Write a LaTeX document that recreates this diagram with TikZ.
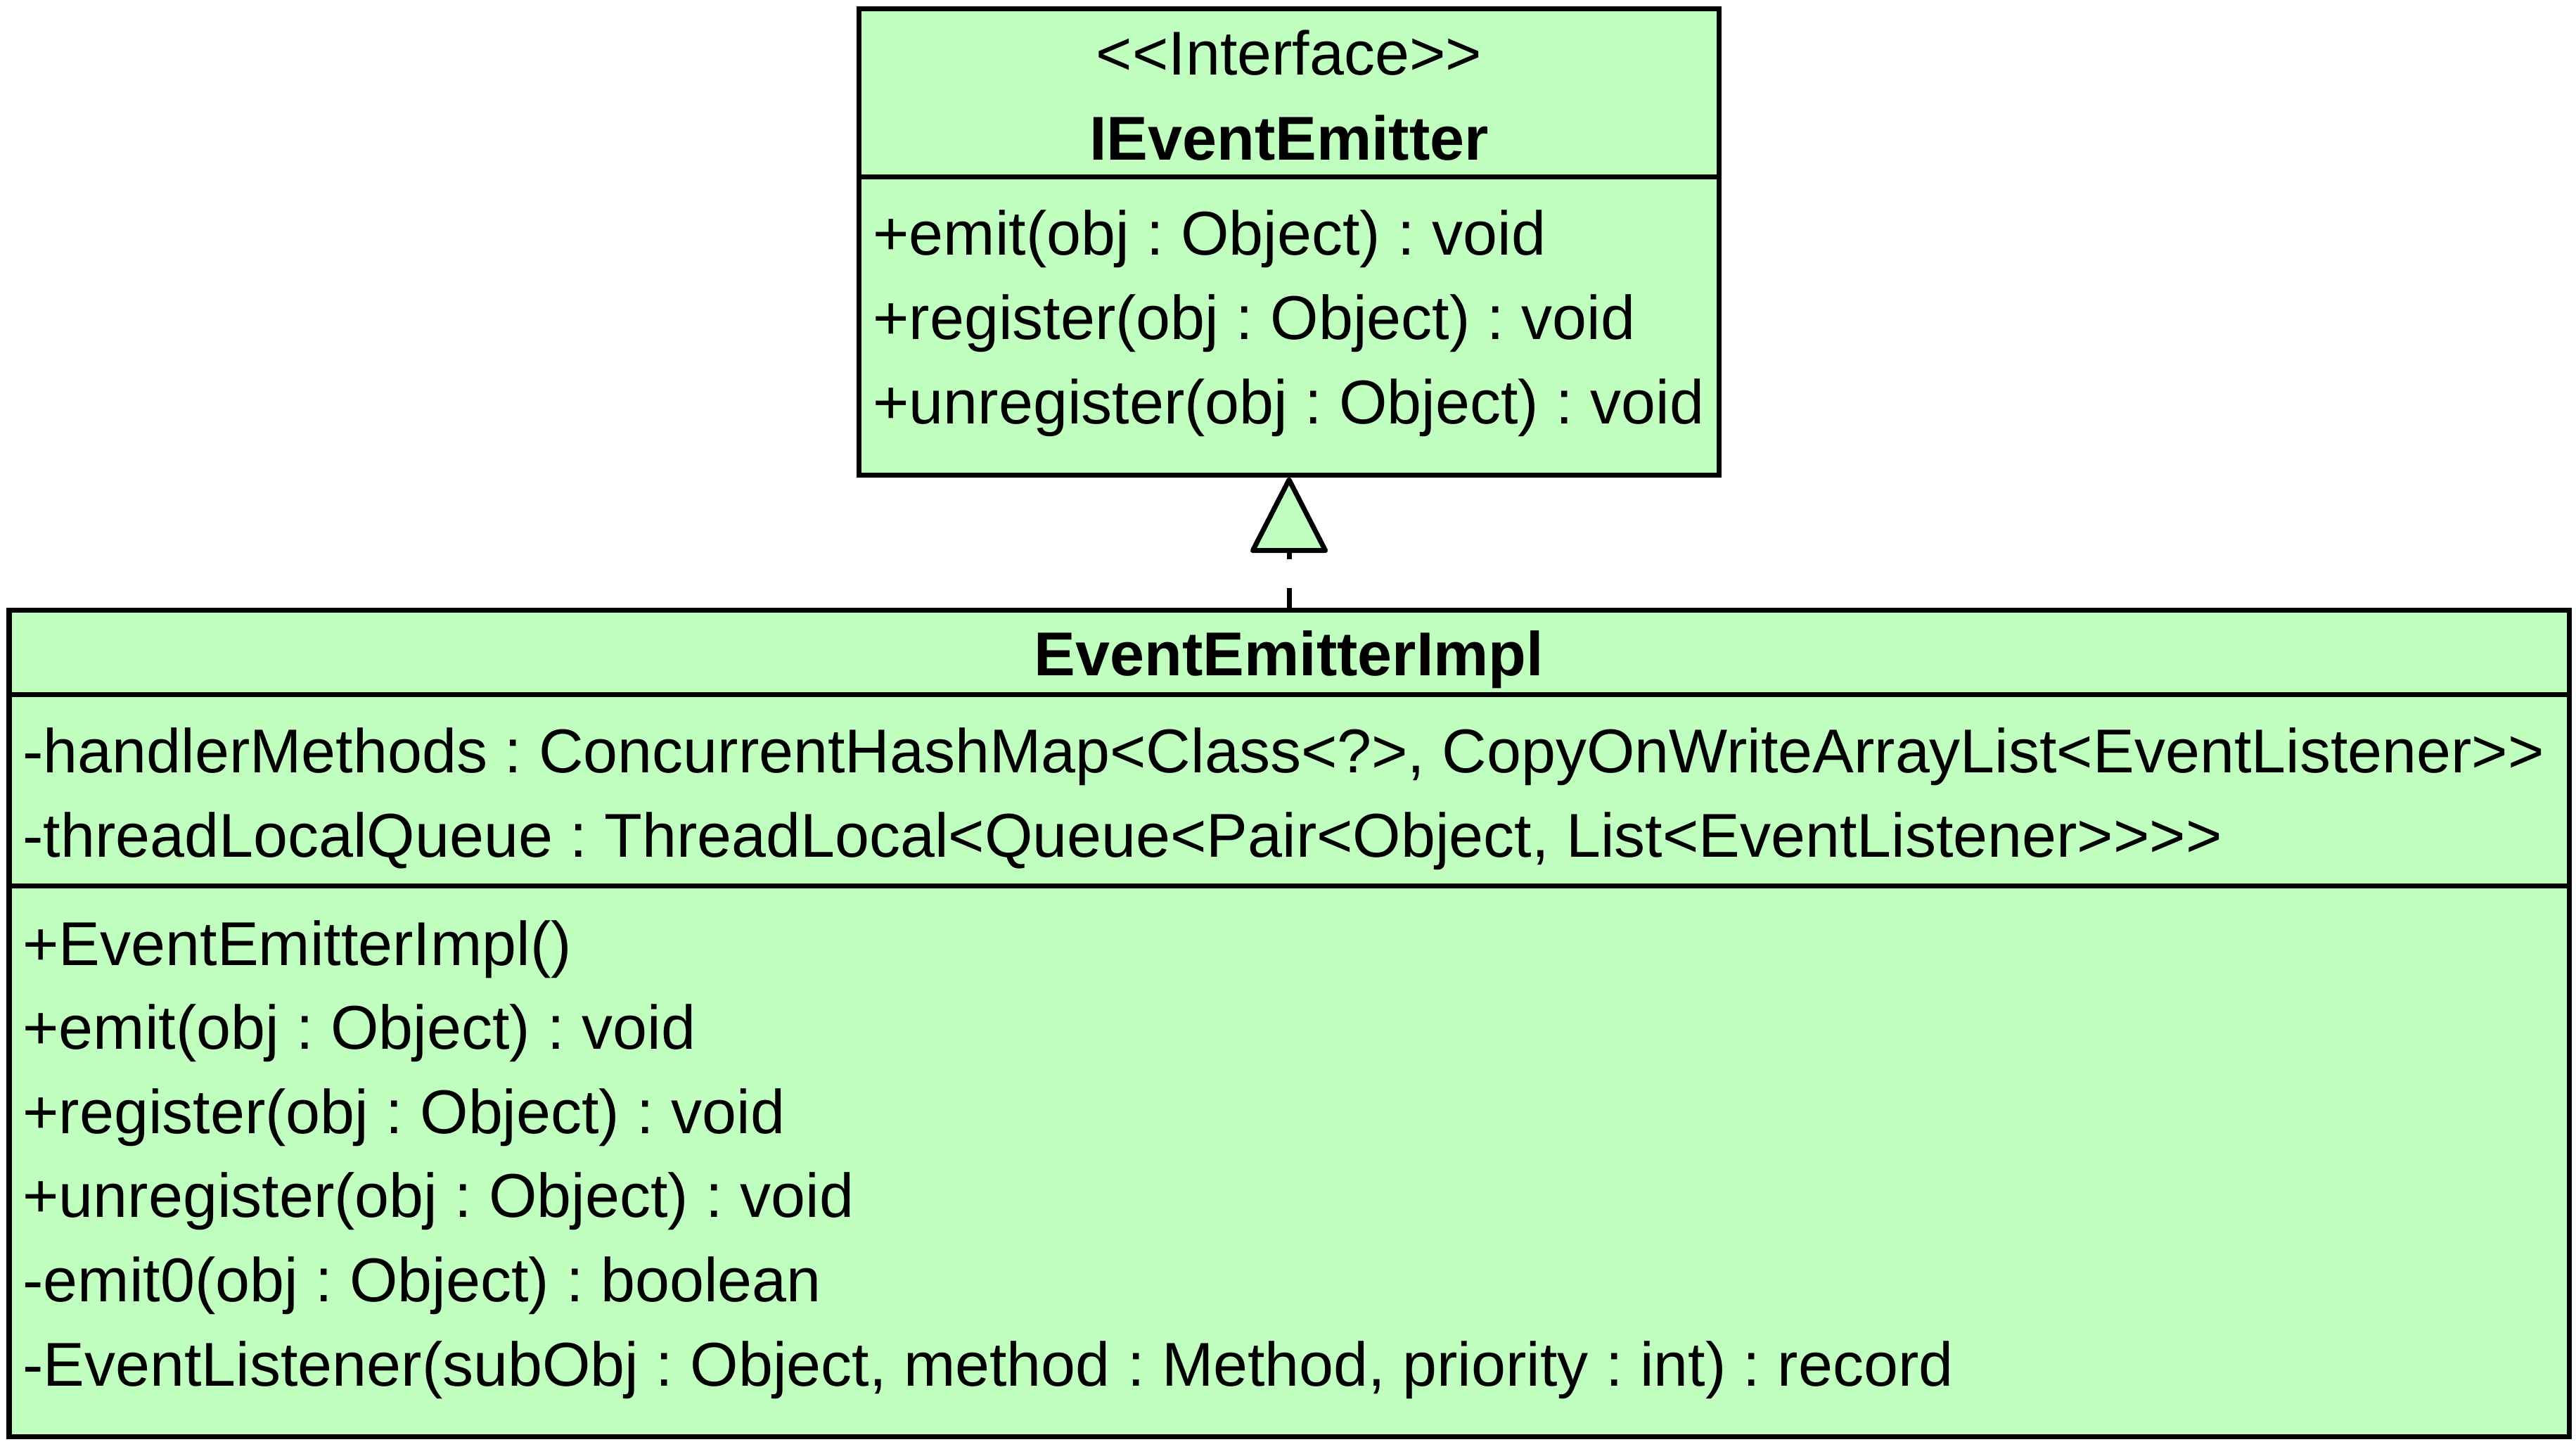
\documentclass[tikz,border=0pt]{standalone}
\usepackage{fontspec}
\setmainfont{Liberation Sans}[Ligatures=TeXOff]
\usetikzlibrary{arrows.meta}
\definecolor{classgreen}{RGB}{192,255,192}
\newcommand{\umlsize}{\fontsize{25.05pt}{30pt}\selectfont\frenchspacing}

\begin{document}
\begin{tikzpicture}
  [line width=0.07cm,
   classbox/.style={draw,fill=classgreen,rectangle,inner sep=0pt},
   member/.style={anchor=base west,inner sep=0pt,font=\umlsize},
   classname/.style={anchor=base,inner sep=0pt,font=\umlsize\bfseries},
   realizes/.style={dash pattern=on 0.28cm off 0.41cm,
     -{Triangle[round,fill=classgreen,length=1.12cm,width=1.13cm]}}]
  \useasboundingbox (0,0) rectangle (36.63,-20.49);

  % interface
  \node[classbox,minimum width=12.23cm,minimum height=6.63cm] (iface) at (18.33,-3.435) {};
  \node[member,anchor=base] (stereo) at (18.33,-1.06) {<<Interface>>};
  \node[classname] (ifname) at (18.33,-2.27) {IEventEmitter};
  \draw ([yshift=-2.425cm]iface.north west) -- ([yshift=-2.425cm]iface.north east);
  \foreach \txt [count=\i] in {+emit(obj : Object) : void,
      +register(obj : Object) : void, +unregister(obj : Object) : void}
    \node[member] (ifop\i) at (12.38,{-3.62-1.2*(\i-1)}) {\txt};

  % implementation
  \node[classbox,minimum width=36.40cm,minimum height=11.75cm] (impl) at (18.33,-14.545) {};
  \node[classname] (implname) at (18.33,-9.60) {EventEmitterImpl};
  \draw ([yshift=-1.235cm]impl.north west) -- ([yshift=-1.235cm]impl.north east);
  \draw ([yshift=-3.955cm]impl.north west) -- ([yshift=-3.955cm]impl.north east);
  \foreach \txt [count=\i] in {
      {-handlerMethods : ConcurrentHashMap<Class<?>, CopyOnWriteArrayList<EventListener>>},
      {-threadLocalQueue : ThreadLocal<Queue<Pair<Object, List<EventListener>>>>}}
    \node[member] (implattr\i) at (0.29,{-10.98-1.2*(\i-1)}) {\txt};
  \foreach \txt [count=\i] in {+EventEmitterImpl(),
      +emit(obj : Object) : void, +register(obj : Object) : void,
      +unregister(obj : Object) : void, -emit0(obj : Object) : boolean,
      {-EventListener(subObj : Object, method : Method, priority : int) : record}}
    \node[member] (implop\i) at (0.29,{-13.72-1.196*(\i-1)}) {\txt};

  \draw[realizes] (impl.north) -- (iface.south);
\end{tikzpicture}
\end{document}
